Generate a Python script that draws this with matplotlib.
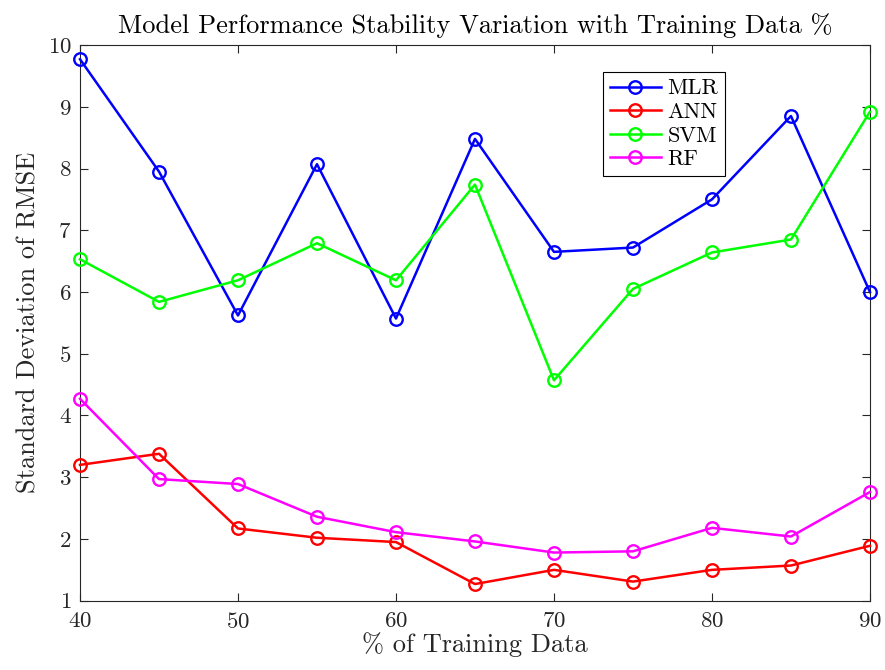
import matplotlib
matplotlib.use("Agg")
import matplotlib.pyplot as plt

plt.rcParams['font.family'] = ['cmr10', 'DejaVu Serif']
plt.rcParams['mathtext.fontset'] = 'cm'
plt.rcParams['axes.formatter.use_mathtext'] = True

train_pct = [40, 45, 50, 55, 60, 65, 70, 75, 80, 85, 90]
mlr = [9.77, 7.95, 5.62, 8.07, 5.57, 8.48, 6.65, 6.72, 7.50, 8.85, 6.00]
ann = [3.20, 3.38, 2.17, 2.02, 1.95, 1.27, 1.50, 1.31, 1.50, 1.57, 1.89]
svm = [6.53, 5.84, 6.19, 6.79, 6.19, 7.74, 4.57, 6.05, 6.64, 6.85, 8.92]
rf = [4.27, 2.97, 2.89, 2.36, 2.11, 1.96, 1.78, 1.80, 2.18, 2.04, 2.76]

series = [("MLR", mlr, (0, 0, 1)), ("ANN", ann, (1, 0, 0)),
          ("SVM", svm, (0, 1, 0)), ("RF", rf, (1, 0, 1))]

fig = plt.figure(figsize=(8.85, 6.7), dpi=100)
ax = fig.add_axes([0.0904, 0.1034, 0.8926, 0.8294])

for name, vals, col in series:
    ax.plot(train_pct, vals, '-o', color=col, lw=1.8, ms=9, mfc='none',
            mew=1.7, label=name, clip_on=False, zorder=3)

ax.set_xlim(40, 90)
ax.set_ylim(1, 10)
ax.set_xticks([40, 50, 60, 70, 80, 90])
ax.set_yticks(range(1, 11))

axis_col = (0.15, 0.15, 0.15)
for s in ax.spines.values():
    s.set_color(axis_col)
    s.set_linewidth(0.8)
ax.tick_params(direction='in', top=True, right=True, length=6, width=0.8,
               colors=axis_col, labelsize=16.5, labelcolor=axis_col)
ax.tick_params(axis='x', pad=8)
ax.tick_params(axis='y', pad=6)

ax.set_xlabel('% of Training Data', fontsize=19, color=axis_col, labelpad=0)
ax.set_ylabel('Standard Deviation of RMSE', fontsize=19, color=axis_col, labelpad=5)
ax.set_title('Model Performance Stability Variation with Training Data %',
             fontsize=19, color='black', pad=9)

leg = ax.legend(loc='upper left', bbox_to_anchor=(0.662, 0.951), fontsize=16,
                frameon=True, fancybox=False, edgecolor='black', framealpha=1,
                handlelength=2.3, borderpad=0.3, labelspacing=0.18,
                handletextpad=0.3, borderaxespad=0)
leg.get_frame().set_linewidth(0.8)

fig.savefig('out.png', dpi=100)
